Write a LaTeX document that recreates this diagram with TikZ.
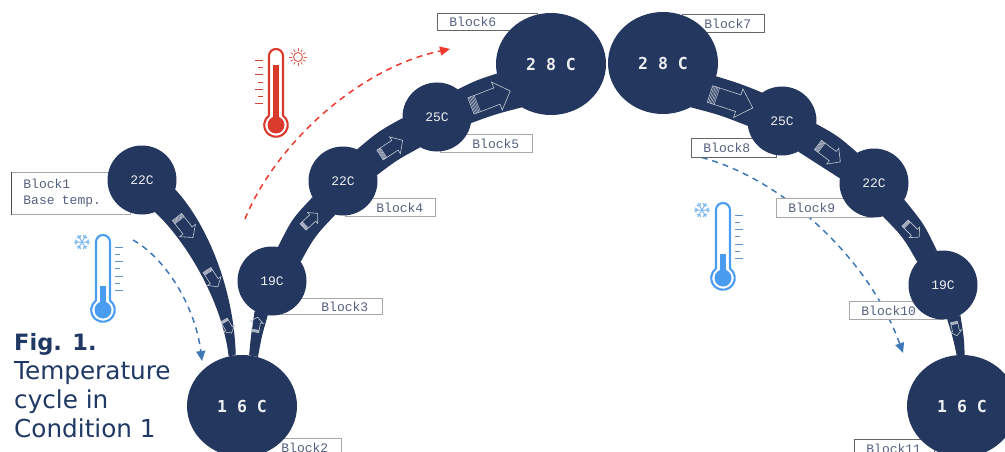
\documentclass[tikz,border=0pt]{standalone}
\usepackage{fontspec}
\setmainfont{DejaVu Sans}
\newfontfamily\blockfont[WordSpace={1,0,0}]{Liberation Mono}
\newfontfamily\tempfont[WordSpace={1,0,0}]{DejaVu Sans Mono}
\usetikzlibrary{arrows.meta,shapes.geometric}
\definecolor{navy}{HTML}{24375F}
\definecolor{captc}{HTML}{1F3864}
\definecolor{blocktxt}{HTML}{55617F}
\definecolor{boxline}{HTML}{A8A8A8}
\definecolor{coldline}{HTML}{3F78B8}
\definecolor{hotline}{HTML}{EE3A2C}
\definecolor{coldtherm}{HTML}{4A9CF0}
\definecolor{flake}{HTML}{7DB8F2}
\definecolor{hottherm}{HTML}{D93A2B}
\definecolor{flowc}{HTML}{C2C8D4}
\tikzset{
  smallc/.style={circle,fill=navy,inner sep=0pt,minimum size=69pt,text=white!92!navy,font=\blockfont\fontsize{13}{14}\selectfont},
  bigc/.style={ellipse,fill=navy,inner sep=0pt,minimum width=110pt,minimum height=102pt,text=white!92!navy,font=\tempfont\bfseries\fontsize{16.5}{18}\selectfont},
  band/.style={fill=navy},
  blockbox/.style={rectangle,draw=boxline,line width=.8pt,fill=white,inner xsep=12pt,inner ysep=0pt,anchor=north west,align=left,text=blocktxt,font=\blockfont\fontsize{13}{16}\selectfont},
  darkbox/.style={blockbox,draw=black!60},
  coldpath/.style={draw=coldline,line width=1.5pt,dash pattern=on 6pt off 5pt,-{Triangle[length=10pt,width=9pt]}},
  hotpath/.style={draw=hotline,line width=1.5pt,dash pattern=on 6pt off 5pt,-{Triangle[length=10pt,width=9pt]}},
  flowline/.style={draw=flowc,line width=.6pt,line join=miter},
}
% x, y, width, height, style, name, left padding beyond the inner sep, text
\newcommand\blk[8]{\node[#5,text width=\dimexpr#3pt-24pt\relax,minimum height=#4pt] (#6) at (#1,#2) {\hspace*{#7pt}#8};}
% tail x, tail y, angle, length, head width
\newcommand\flow[5]{%
  \begin{scope}[shift={(#1,#2)},rotate=#3]
    \draw[flowline] (0,{-.29*#5}) -- ({.66*#4},{-.29*#5}) -- ({.66*#4},{-.5*#5}) -- (#4,0) -- ({.66*#4},{.5*#5}) -- ({.66*#4},{.29*#5}) -- (0,{.29*#5}) -- cycle;
    \foreach \k in {1,...,5}{\draw[flowc,line width=.5pt] ({.032*\k*#4},{-.29*#5}) -- ({.032*\k*#4},{.29*#5});}
  \end{scope}}
% therm: bulb x, bulb y, colour, height to top, stem height, stem half-width
\newcommand\therm[6]{%
  \begin{scope}[shift={(#1,#2)}]
    \draw[#3,line width=2.1pt,line join=round] (-7,-9.5) -- (-7,{-#4+7}) arc[start angle=180,end angle=360,radius=7] -- (7,-9.5) arc[start angle=-53.6,end angle=233.6,radius=11.8];
    \fill[#3] (0,0) circle[radius=8.5];
    \fill[#3] (-#6,0) rectangle (#6,-#5);
  \end{scope}}
\begin{document}
\begin{tikzpicture}[x=1pt,y=-1pt]
\clip (0,0) rectangle (1005,452);

% dashed cycle paths
\coordinate (redA) at (245,219);
\coordinate (redB) at (450,49);
\coordinate (blueA) at (133,240);
\coordinate (blueB) at (202,361);
\coordinate (blueC) at (691,155);
\coordinate (blueD) at (903,353);
\draw[hotpath] (redA) .. controls (275,145) and (358,68) .. (redB);
\draw[coldpath] (blueA) .. controls (165,258) and (195,305) .. (blueB);
\draw[coldpath] (blueC) .. controls (775,172) and (868,255) .. (blueD);

% block labels
\blk{11}{172}{119}{42}{blockbox}{b1}{0}{Block1\\Base\hspace{3pt} temp.}
\draw[black!70,line width=.8pt] (b1.north west) -- (b1.south west);
\blk{250}{438}{91}{18}{blockbox}{b2}{19}{Block2}
\blk{270}{298}{112}{16}{blockbox}{b3}{39}{Block3}
\blk{345}{198}{90}{18}{blockbox}{b4}{19}{Block4}
\blk{440}{134}{92}{18}{blockbox}{b5}{20}{Block5}
\blk{437}{13}{100}{17}{darkbox}{b6}{0}{Block6}
\blk{682}{14}{82}{18}{darkbox}{b7}{10}{Block7}
\blk{691}{138}{85}{19}{darkbox}{b8}{0}{Block8}
\blk{776}{198}{96}{19}{blockbox}{b9}{0}{Block9}
\blk{849}{301}{94}{18}{blockbox}{b10}{0}{Block10}
\blk{854}{439}{80}{18}{darkbox}{b11}{0}{Block11}

% temperature stations
\node[smallc] (n1) at (142,180) {22C};
\node[bigc] (n2) at (242,406) {1 6 C};
\node[smallc] (n3) at (272,281) {19C};
\node[smallc] (n4) at (343,181) {22C};
\node[smallc] (n5) at (437,117) {25C};
\node[bigc] (n6) at (551,64) {2 8 C};
\node[bigc] (n7) at (663,63) {2 8 C};
\node[smallc] (n8) at (782,121) {25C};
\node[smallc] (n9) at (874,183) {22C};
\node[smallc] (n10) at (943,285) {19C};
\node[bigc] (n11) at (962,406) {1 6 C};

% bands between stations
\fill[band] (n1.-16) .. controls (208,225) and (234,290) .. (n2.97) -- (n2.105) .. controls (222,300) and (185,240) .. (n1.-68) -- cycle;
\fill[band] (n2.82) .. controls (251,335) .. (n3.240) -- (n3.263) .. controls (262,335) .. (n2.72) -- cycle;
\fill[band] (n3.80) .. controls (292,219) .. (n4.208) -- (n4.257) .. controls (315,236) .. (n3.34) -- cycle;
\fill[band] (n4.66) .. controls (379,131) .. (n5.182) -- (n5.241) .. controls (397,160) .. (n4.10) -- cycle;
\fill[band] (n5.53) .. controls (477,80) .. (n6.190) -- (n6.236) .. controls (496,114) .. (n5.-10) -- cycle;
\fill[band] (n7.-14) .. controls (741,84) .. (n8.125) -- (n8.188) .. controls (720,115) .. (n7.-58) -- cycle;
\fill[band] (n8.-5) .. controls (838,136) .. (n9.119) -- (n9.172) .. controls (819,164) .. (n8.-62) -- cycle;
\fill[band] (n9.-29) .. controls (924,224) .. (n10.100) -- (n10.138) .. controls (903,237) .. (n9.-75) -- cycle;
\fill[band] (n10.-83) .. controls (953,338) .. (n11.96) -- (n11.87) .. controls (964,338) .. (n10.-60) -- cycle;

% flow arrows
\flow{471}{106}{21}{42}{30}
\flow{380}{155}{33}{27}{20}
\flow{303}{227}{43}{20}{15}
\flow{255}{332}{80}{15}{13}
\flow{177}{217}{-52}{26}{20}
\flow{207}{270}{-57}{20}{16}
\flow{224}{320}{-60}{15}{13}
\flow{710}{94}{-18}{45}{30}
\flow{818}{145}{-37}{28}{20}
\flow{905}{223}{-45}{20}{15}
\flow{954}{322}{-78}{14}{12}

% thermometers
\therm{103}{310}{coldtherm}{75}{24}{3.2}
\foreach \yy/\ll in {247/8,254/5,261/8,268/5,276/8,283/5,290/8}{\draw[coldtherm!70!gray,line width=1pt] (115,\yy) -- ++(\ll,0);}
\therm{723}{278}{coldtherm}{75}{24}{3.2}
\foreach \yy/\ll in {215/8,222/5,229/8,236/5,244/8,251/5,258/8}{\draw[coldtherm!70!gray,line width=1pt] (735,\yy) -- ++(\ll,0);}
\therm{276}{125}{hottherm}{76}{60}{3.4}
\foreach \yy/\ll in {61/8,68/5,75/8,83/5,90/8,97/5,104/8}{\draw[hottherm!85!gray,line width=1pt] (263,\yy) -- ++(-\ll,0);}

% snowflakes
\foreach \cx/\cy in {82/242,702/210}{
  \begin{scope}[shift={(\cx,\cy)}]
    \foreach \a in {0,60,120,180,240,300}{
      \draw[flake,line width=1pt,rotate=\a] (0,0) -- (8,0) (4.5,0) -- (6.8,2.2) (4.5,0) -- (6.8,-2.2);
    }
  \end{scope}}
% sun
\begin{scope}[shift={(298,57)}]
  \draw[hottherm!85!white,line width=.9pt] (0,0) circle[radius=4.5];
  \foreach \a in {0,30,...,330}{\draw[hottherm!85!white,line width=.8pt,rotate=\a] (5.8,0) -- (8.6,0);}
\end{scope}

% caption
\node[anchor=north west,inner sep=0pt,align=left,text=captc,font=\fontsize{24.7}{29}\selectfont] (cap) at (14,333) {{\fontsize{22.5}{29}\selectfont\textbf{Fig. 1.}}\\Temperature\\cycle in\\Condition 1};
\end{tikzpicture}
\end{document}
